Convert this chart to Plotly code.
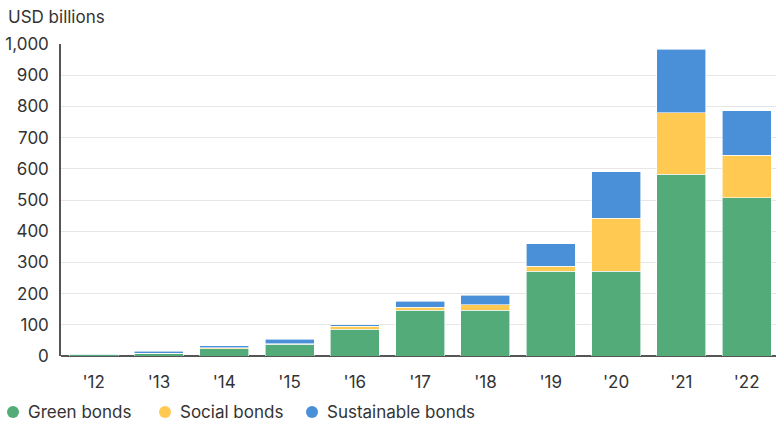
import plotly.graph_objects as go

years = ["'12", "'13", "'14", "'15", "'16", "'17", "'18", "'19", "'20", "'21", "'22"]
green = [4, 8, 24, 38, 85, 147, 147, 272, 272, 583, 507]
social = [0, 1, 3, 2, 10, 9, 18, 16, 170, 197, 137]
sustainable = [2, 6, 6, 13, 5, 20, 29, 71, 148, 203, 142]
yticks = [0, 100, 200, 300, 400, 500, 600, 700, 800, 900, 1000]
ytick_text = ["0", "100", "200", "300", "400", "500", "600", "700", "800", "900", "1,000"]

series = [
    ("Green bonds", green, "#52ab78"),
    ("Social bonds", social, "#ffc952"),
    ("Sustainable bonds", sustainable, "#4a90d9"),
]
legend_x = [13, 165, 312]  # circle centres in pixels

FONT = "Inter, Roboto, sans-serif"
W, H = 776, 426
fig = go.Figure()
for name, vals, col in series:
    fig.add_trace(go.Bar(x=years, y=vals, name=name,
                         marker=dict(color=col, line=dict(color="white", width=0.6)),
                         showlegend=False))

# manual legend: circle + text
for (name, vals, col), cx in zip(series, legend_x):
    cy = 412
    r = 6
    fig.add_shape(type="circle", xref="paper", yref="paper",
                  x0=(cx - r - 61) / 715, x1=(cx + r - 61) / 715,
                  y0=(356 - (cy + r)) / 312, y1=(356 - (cy - r)) / 312,
                  fillcolor=col, line=dict(width=0))
    fig.add_annotation(text=name, xref="paper", yref="paper",
                       x=(cx + 13 - 61) / 715, y=(356 - cy) / 312,
                       xanchor="left", yanchor="middle", showarrow=False,
                       font=dict(size=17, color="#333333"))

fig.update_layout(
    width=W, height=H,
    margin=dict(l=61, r=0, t=44, b=70),
    barmode="stack", bargap=0.25,
    plot_bgcolor="white", paper_bgcolor="white",
    showlegend=False,
    font=dict(family=FONT, size=17, color="#333333"),
    title=dict(text="USD billions", x=8/W, xref="container", xanchor="left",
               y=1-17/H, yref="container", yanchor="middle", font=dict(size=17, color="#333333")),
    xaxis=dict(range=[-0.5, 10.45], showgrid=False, showline=False, ticks="", tickfont=dict(size=17),
               ticklabelstandoff=14),
    yaxis=dict(range=[0, 1000], tickvals=yticks, ticktext=ytick_text, showgrid=True, gridcolor="#e6e6e6",
               gridwidth=1, showline=True, linecolor="#555555", linewidth=1.5, zeroline=True,
               zerolinecolor="#555555", zerolinewidth=1.5, ticks="", ticklabelstandoff=7,
               tickfont=dict(size=17)),
)

fig.write_html("out.html")
